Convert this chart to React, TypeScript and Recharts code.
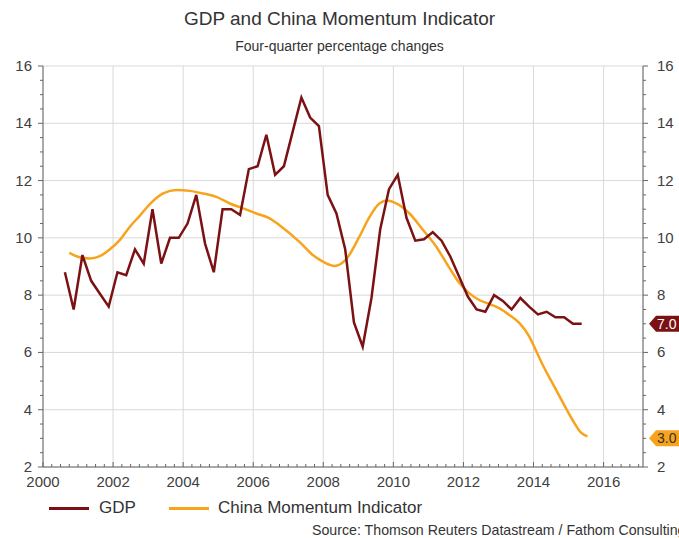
import React from 'react';
import {
  CartesianGrid,
  ComposedChart,
  Line,
  ReferenceDot,
  XAxis,
  YAxis,
} from 'recharts';

// GDP, four-quarter % change, one point per quarter
const gdpYears = [
  2000.625, 2000.875, 2001.125, 2001.375, 2001.625, 2001.875, 2002.125, 2002.375, 2002.625, 2002.875,
  2003.125, 2003.375, 2003.625, 2003.875, 2004.125, 2004.375, 2004.625, 2004.875, 2005.125, 2005.375,
  2005.625, 2005.875, 2006.125, 2006.375, 2006.625, 2006.875, 2007.125, 2007.375, 2007.625, 2007.875,
  2008.125, 2008.375, 2008.625, 2008.875, 2009.125, 2009.375, 2009.625, 2009.875, 2010.125, 2010.375,
  2010.625, 2010.875, 2011.125, 2011.375, 2011.625, 2011.875, 2012.125, 2012.375, 2012.625, 2012.875,
  2013.125, 2013.375, 2013.625, 2013.875, 2014.125, 2014.375, 2014.625, 2014.875, 2015.125, 2015.375,
];
const gdpValues = [
  8.8, 7.5, 9.4, 8.5, 8.05, 7.6, 8.8, 8.7, 9.6, 9.1,
  11.0, 9.1, 10.0, 10.0, 10.5, 11.5, 9.8, 8.8, 11.0, 11.0,
  10.8, 12.4, 12.5, 13.6, 12.2, 12.5, 13.7, 14.9, 14.2, 13.9,
  11.5, 10.85, 9.6, 7.05, 6.2, 7.9, 10.3, 11.7, 12.2, 10.7,
  9.9, 9.95, 10.2, 9.9, 9.35, 8.65, 7.95, 7.5, 7.42, 8.0,
  7.8, 7.5, 7.9, 7.6, 7.33, 7.42, 7.23, 7.23, 7.0, 7.0,
];

// China Momentum Indicator (smooth series)
const cmiYears = [
  2000.75, 2001.05, 2001.34, 2001.62, 2001.91, 2002.19, 2002.48, 2002.76, 2003.05, 2003.43,
  2003.81, 2004.19, 2004.57, 2004.95, 2005.33, 2005.71, 2006.09, 2006.47, 2006.75, 2007.32,
  2007.7, 2007.99, 2008.32, 2008.65, 2009.03, 2009.32, 2009.6, 2009.83, 2010.08, 2010.46,
  2010.83, 2011.22, 2011.6, 2011.88, 2012.17, 2012.45, 2012.74, 2013.03, 2013.31, 2013.6,
  2013.88, 2014.02, 2014.26, 2014.54, 2014.82, 2015.11, 2015.35, 2015.54,
];
const cmiValues = [
  9.48, 9.32, 9.28, 9.36, 9.6, 9.92, 10.39, 10.77, 11.18, 11.55,
  11.67, 11.64, 11.55, 11.43, 11.2, 11.03, 10.85, 10.68, 10.44, 9.86,
  9.4, 9.17, 9.02, 9.25, 10.04, 10.73, 11.2, 11.3, 11.2, 10.85,
  10.3, 9.7, 8.95, 8.43, 8.06, 7.83, 7.69, 7.54, 7.31, 7.02,
  6.55, 6.2, 5.57, 4.93, 4.29, 3.65, 3.21, 3.07,
];

const yearTicks = [2000, 2002, 2004, 2006, 2008, 2010, 2012, 2014, 2016];
const valueTicks = [2, 4, 6, 8, 10, 12, 14, 16];
const valueMinorTicks = [
  2, 2.5, 3, 3.5, 4, 4.5, 5, 5.5, 6, 6.5, 7, 7.5, 8, 8.5, 9, 9.5,
  10, 10.5, 11, 11.5, 12, 12.5, 13, 13.5, 14, 14.5, 15, 15.5, 16,
];
const quarterTicks = Array.from({ length: 69 }, (_, i) => 2000 + i * 0.25);

const X_DOMAIN: [number, number] = [2000, 2017.125];
const Y_DOMAIN: [number, number] = [2, 16];

const GDP_COLOR = '#7b1113';
const CMI_COLOR = '#f8a31c';
const TEXT = '#404040';
const FONT = '"Liberation Sans", Arial, sans-serif';

const gdpRows = gdpYears.map((t, i) => ({ t, v: gdpValues[i] }));
const cmiRows = cmiYears.map((t, i) => ({ t, v: cmiValues[i] }));

function YTick(props: any) {
  const { x, y, payload, side } = props;
  const v = payload.value as number;
  const major = v % 2 === 0;
  const len = major ? 5 : 3;
  const dir = side === 'left' ? -1 : 1;
  return (
    <g>
      <line x1={x} x2={x + dir * len} y1={y} y2={y} stroke="#666" strokeWidth={1} />
      {major ? (
        <text
          x={side === 'left' ? x - 11 : x + 14}
          y={y + 5}
          textAnchor={side === 'left' ? 'end' : 'start'}
          fontSize={15}
          fill={TEXT}
          fontFamily={FONT}
        >
          {v}
        </text>
      ) : null}
    </g>
  );
}

function XTick(props: any) {
  const { x, y, payload } = props;
  const v = payload.value as number;
  const major = v % 2 === 0;
  return (
    <g>
      <line x1={x} x2={x} y1={y} y2={y - (major ? 5 : 3)} stroke="#666" strokeWidth={1} />
      {major ? (
        <text x={x} y={y + 20} textAnchor="middle" fontSize={15} fill={TEXT} fontFamily={FONT}>
          {v}
        </text>
      ) : null}
    </g>
  );
}

function ValueTag(props: any) {
  const { cx, cy, fill, color, label } = props;
  const tip = cx + 6;
  const body = cx + 13;
  return (
    <g>
      <polygon
        points={`${tip},${cy} ${body},${cy - 8} ${body + 40},${cy - 8} ${body + 40},${cy + 8} ${body},${cy + 8}`}
        fill={fill}
      />
      <text x={body + 1} y={cy + 5} fontSize={14} fill={color} fontFamily={FONT}>
        {label}
      </text>
    </g>
  );
}

export default function App() {
  const lastGdp = gdpValues[gdpValues.length - 1];
  const lastCmi = 3.0;

  return (
    <div style={{ position: 'absolute', left: 0, top: 0, width: 679, height: 538, background: '#fff', fontFamily: FONT, overflow: 'hidden' }}>
      <div style={{ position: 'absolute', left: 0, width: 679, top: 8, textAlign: 'center', fontSize: 19, color: '#333' }}>
        GDP and China Momentum Indicator
      </div>
      <div style={{ position: 'absolute', left: 0, width: 679, top: 38, textAlign: 'center', fontSize: 14, color: '#333' }}>
        Four-quarter percentage changes
      </div>

      <ComposedChart
        width={679}
        height={538}
        margin={{ top: 66, right: 0, bottom: 41, left: 0 }}
        style={{ position: 'absolute', left: 0, top: 0 }}
      >
        <XAxis xAxisId="gx" type="number" dataKey="t" domain={X_DOMAIN} ticks={yearTicks} hide height={0} allowDataOverflow />
        <YAxis yAxisId="gy" type="number" domain={Y_DOMAIN} ticks={valueTicks} hide width={0} allowDataOverflow />
        <CartesianGrid xAxisId="gx" yAxisId="gy" stroke="#d9d9d9" strokeWidth={1} />

        <XAxis
          xAxisId="x"
          type="number"
          dataKey="t"
          domain={X_DOMAIN}
          ticks={quarterTicks}
          interval={0}
          allowDataOverflow
          height={30}
          tickSize={0}
          tickMargin={0}
          tickLine={false}
          axisLine={{ stroke: '#666' }}
          tick={<XTick />}
        />
        <YAxis
          yAxisId="l"
          orientation="left"
          type="number"
          domain={Y_DOMAIN}
          ticks={valueMinorTicks}
          interval={0}
          allowDataOverflow
          width={43}
          tickSize={0}
          tickMargin={0}
          tickLine={false}
          axisLine={{ stroke: '#666' }}
          tick={<YTick side="left" />}
        />
        <YAxis
          yAxisId="r"
          orientation="right"
          type="number"
          domain={Y_DOMAIN}
          ticks={valueMinorTicks}
          interval={0}
          allowDataOverflow
          width={36}
          tickSize={0}
          tickMargin={0}
          tickLine={false}
          axisLine={{ stroke: '#666' }}
          tick={<YTick side="right" />}
        />

        <Line
          xAxisId="x"
          yAxisId="l"
          data={cmiRows}
          dataKey="v"
          type="monotone"
          stroke={CMI_COLOR}
          strokeWidth={2.5}
          dot={false}
          isAnimationActive={false}
        />
        <Line
          xAxisId="x"
          yAxisId="l"
          data={gdpRows}
          dataKey="v"
          type="linear"
          stroke={GDP_COLOR}
          strokeWidth={2.5}
          dot={false}
          isAnimationActive={false}
        />

        <ReferenceDot
          xAxisId="x"
          yAxisId="r"
          x={X_DOMAIN[1]}
          y={lastGdp}
          r={0}
          ifOverflow="visible"
          shape={(p: any) => <ValueTag {...p} fill={GDP_COLOR} color="#fff" label={lastGdp.toFixed(1)} />}
        />
        <ReferenceDot
          xAxisId="x"
          yAxisId="r"
          x={X_DOMAIN[1]}
          y={lastCmi}
          r={0}
          ifOverflow="visible"
          shape={(p: any) => <ValueTag {...p} fill={CMI_COLOR} color="#333" label={lastCmi.toFixed(1)} />}
        />
      </ComposedChart>

      <div style={{ position: 'absolute', left: 49, top: 507, width: 40, height: 3, background: GDP_COLOR }} />
      <div style={{ position: 'absolute', left: 99, top: 497, fontSize: 17, color: '#333', lineHeight: '22px' }}>GDP</div>
      <div style={{ position: 'absolute', left: 169, top: 507, width: 40, height: 3, background: CMI_COLOR }} />
      <div style={{ position: 'absolute', left: 218, top: 497, fontSize: 17, color: '#333', lineHeight: '22px' }}>
        China Momentum Indicator
      </div>
      <div style={{ position: 'absolute', left: 312, top: 521, fontSize: 14.2, color: '#333', whiteSpace: 'nowrap', lineHeight: '18px' }}>
        Source: Thomson Reuters Datastream / Fathom Consulting
      </div>
    </div>
  );
}
